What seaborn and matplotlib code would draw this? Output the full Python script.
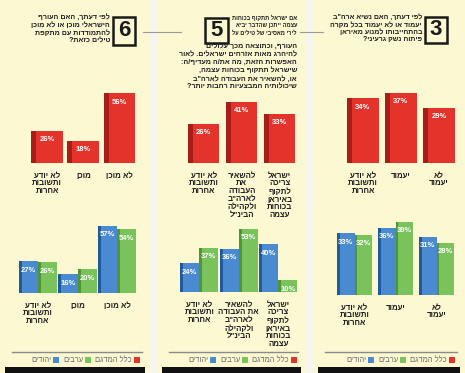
import matplotlib
matplotlib.use("Agg")
import matplotlib.pyplot as plt
from matplotlib.patches import Rectangle
from matplotlib.lines import Line2D
import pandas as pd
import seaborn as sns

# -------------------------------
# Data (categories listed left to right as printed)
# -------------------------------
q6_cats = ["לא יודע\nותשובות\nאחרות", "מוכן", "לא מוכן"]
q6_total = [26, 18, 56]
q6_jews = [27, 16, 57]
q6_arabs = [26, 20, 54]

q5_cats_top = ["לא יודע\nותשובות\nאחרות",
               "להשאיר\nאת\nהעבודה\nלארה\"ב\nולקהילה\nהבינ\"ל",
               "ישראל\nצריכה\nלתקוף\nבאיראן\nבכוחות\nעצמה"]
q5_cats_bottom = ["לא יודע\nותשובות\nאחרות",
                  "להשאיר\nאת העבודה\nלארה\"ב\nולקהילה\nהבינ\"ל",
                  "ישראל\nצריכה\nלתקוף\nבאיראן\nבכוחות\nעצמה"]
q5_total = [26, 41, 33]
q5_jews = [24, 36, 40]
q5_arabs = [37, 53, 10]

q3_cats = ["לא יודע\nותשובות\nאחרות", "יעמוד", "לא\nיעמוד"]
q3_total = [34, 37, 29]
q3_jews = [33, 36, 31]
q3_arabs = [32, 39, 28]

q6_text = "לפי דעתך, האם העורף\nהישראלי מוכן או לא מוכן\nלהתמודדות עם מתקפת\nטילים כזאת?"
q5_text_a = "אם ישראל תתקוף בכוחות\nעצמה ייתכן שהדבר יביא\nלירי מאסיבי של טילים על"
q5_text_b = ("העורף, וכתוצאה מכך עלולים\nלהיהרג מאות אזרחים ישראלים. לאור\n"
             "האפשרות הזאת, מה את/ה מעדיף/ה:\nשישראל תתקוף בכוחות עצמה,\n"
             "או, להשאיר את העבודה לארה\"ב\nשיכולותיה המבצעיות רחבות יותר?")
q3_text = "לפי דעתך, האם נשיא ארה\"ב\nיעמוד או לא יעמוד בכל מקרה\nבהתחייבותו למנוע מאיראן\nפיתוח נשק גרעיני?"

groups = ["יהודים", "ערבים"]
legend_labels = ["כלל המדגם", "ערבים", "יהודים"]

RED, RED_D = "#e3332b", "#a81d18"
BLUE, BLUE_D = "#4a8ad0", "#1f5a9e"
GREEN, GREEN_D = "#79c25c", "#4c9636"
BG = "#fcf8d2"
INK = "#1e1e1e"
FONT = ["Liberation Sans", "DejaVu Sans"]

W, H = 465, 373


def vis(s):
    # matplotlib has no bidi: put each Hebrew line in visual order
    return "\n".join(line[::-1] for line in s.split("\n"))


fig = plt.figure(figsize=(W / 100, H / 100), dpi=100)
fig.patch.set_facecolor("#f7f6ee")
plt.rcParams["font.family"] = FONT
renderer = fig.canvas.get_renderer()


def px_axes(x0, y0, x1, y1):
    return fig.add_axes([x0 / W, 1 - y1 / H, (x1 - x0) / W, (y1 - y0) / H])


def fx(x):
    return x / W


def fy(y):
    return 1 - y / H


def shade_bars(ax, dark):
    # fake 3D: darker left face on each bar
    for p, d in zip(ax.patches, dark):
        x, y = p.get_x(), p.get_y()
        w, h = p.get_width(), p.get_height()
        if h <= 0:
            continue
        ax.add_patch(Rectangle((x, y), w * 0.16, h, color=d, lw=0, zorder=3))


def style(ax, ymax, pad):
    ax.set_ylim(0, ymax)
    ax.set_xlim(-0.5, 2.5)
    ax.set_facecolor("none")
    for s in ax.spines.values():
        s.set_visible(False)
    ax.set_yticks([])
    ax.set_xlabel("")
    ax.set_ylabel("")
    ax.tick_params(axis="x", length=0, pad=pad)


def top_chart(rect, cats, vals, ymax, width):
    ax = px_axes(*rect)
    sns.barplot(x=list(range(3)), y=vals, color=RED, saturation=1,
                width=width, ax=ax, zorder=2)
    shade_bars(ax, [RED_D] * 3)
    for c in ax.containers:
        ax.bar_label(c, labels=[f"{v}%" for v in vals], padding=-9,
                     color="white", fontsize=5.5, fontweight="bold", zorder=4)
    style(ax, ymax, 7)
    ax.set_xticks(range(3))
    ax.set_xticklabels([vis(c) for c in cats], fontsize=5.7,
                       fontweight="bold", color=INK, linespacing=1.15)


def bottom_chart(rect, cats, jews, arabs, ymax, width):
    ax = px_axes(*rect)
    df = pd.DataFrame({
        "cat": list(range(3)) * 2,
        "val": jews + arabs,
        "group": [groups[0]] * 3 + [groups[1]] * 3,
    })
    sns.barplot(data=df, x="cat", y="val", hue="group", hue_order=groups,
                palette=[BLUE, GREEN], saturation=1, width=width, gap=0,
                legend=False, ax=ax, zorder=2)
    shade_bars(ax, [BLUE_D] * 3 + [GREEN_D] * 3)
    for c, vals in zip(ax.containers, [jews, arabs]):
        ax.bar_label(c, labels=[f"{v}%" for v in vals], padding=-9,
                     color="white", fontsize=5.5, fontweight="bold", zorder=4)
    style(ax, ymax, 7)
    ax.set_xticks(range(3))
    ax.set_xticklabels([vis(c) for c in cats], fontsize=5.7,
                       fontweight="bold", color=INK, linespacing=1.15)


def question(xr, ytop, txt, fsize, lsp):
    fig.text(fx(xr), fy(ytop), vis(txt), ha="right", va="top",
             fontsize=fsize, fontweight="bold", color=INK,
             linespacing=lsp, multialignment="right", family=FONT)


def panel(x0, x1, number, box, legend_right):
    fig.add_artist(Rectangle((fx(x0), 0), fx(x1 - x0), 1, color=BG, lw=0,
                             zorder=0))
    bx0, by0, bx1, by1 = box
    fig.add_artist(Rectangle((fx(bx0), fy(by1)), fx(bx1 - bx0),
                             (by1 - by0) / H, fill=False, ec="#1a1a1a",
                             lw=1.8, zorder=5))
    fig.text(fx((bx0 + bx1) / 2), fy((by0 + by1) / 2 - 0.5), number,
             ha="center", va="center", fontsize=16, fontweight="bold",
             color="#1a1a1a", family=FONT)
    # legend rule and black footer
    fig.add_artist(Line2D([fx(x0 + 12), fx(x1 - 8)], [fy(352), fy(352)],
                          color="#8a8a8a", lw=1.0))
    fig.add_artist(Rectangle((fx(x0 + 5), 0), fx(x1 - x0 - 10), 6 / H,
                             color="#111111", lw=0, zorder=5))
    x = legend_right
    for lab, col in zip(legend_labels, [RED, GREEN, BLUE]):
        fig.add_artist(Rectangle((fx(x - 6), fy(363)), fx(6), 6 / H,
                                 color=col, lw=0))
        t = fig.text(fx(x - 8), fy(360), vis(lab), ha="right", va="center",
                     fontsize=5.5, color="#6d6d6d", family=FONT)
        x -= 8 + t.get_window_extent(renderer).width + 4


# -------------------------------
# Panel 6 (left)
# -------------------------------
panel(0, 150, "6", (113, 17, 135, 45), 140)
question(110, 14, q6_text, 5.1, 1.17)
top_chart((29, 88, 137.5, 163), q6_cats, q6_total, 60, 0.88)
bottom_chart((18, 222, 137, 293), q6_cats, q6_jews, q6_arabs, 60, 0.97)

# -------------------------------
# Panel 5 (middle)
# -------------------------------
panel(157, 306, "5", (205, 18, 228, 43), 297)
question(297, 15, q5_text_a, 4.1, 1.5)
question(297, 43, q5_text_b, 5.1, 1.22)
top_chart((185, 100, 298.5, 163), q5_cats_top, q5_total, 42, 0.82)
bottom_chart((179.5, 225, 298, 292), q5_cats_bottom, q5_jews, q5_arabs, 56, 0.97)

# -------------------------------
# Panel 3 (right)
# -------------------------------
panel(313, 465, "3", (425, 17, 447, 43), 455)
question(422, 14, q3_text, 5.0, 1.1)
top_chart((344, 87, 458, 163), q3_cats, q3_total, 40, 0.82)
bottom_chart((334, 220, 457, 295), q3_cats, q3_jews, q3_arabs, 40, 0.87)

# connector rules between panels
for xa, xb in [(143, 181), (300, 323)]:
    fig.add_artist(Line2D([fx(xa), fx(xb)], [fy(32), fy(32)],
                          color="#9a9a9a", lw=0.8))

fig.savefig("out.png", dpi=100, facecolor=fig.get_facecolor())
